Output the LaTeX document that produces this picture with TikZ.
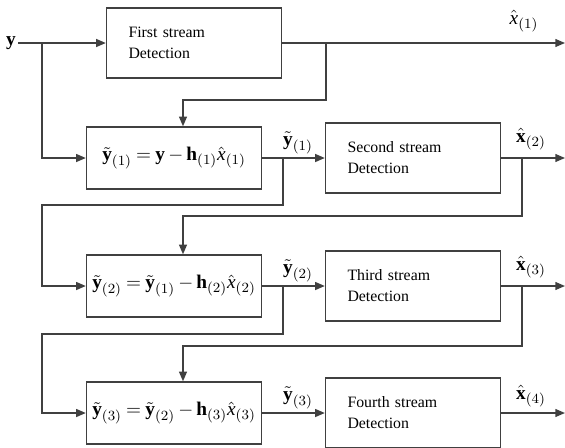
\documentclass[tikz,border=0pt]{standalone}
\usepackage{fontspec}
\setmainfont{Liberation Serif}
\usetikzlibrary{arrows.meta}
\newcommand{\vy}{\textbf{y}}
\newcommand{\vh}{\textbf{h}}
\newcommand{\vx}{\textbf{x}}
\newcommand{\tightsp}{\thickmuskip=4mu\relax\medmuskip=3mu\relax}

\begin{document}
\begin{tikzpicture}[x=0.02cm,y=-0.02cm,line width=0.8pt,
  wire/.style={draw=black!75,-{Triangle[length=5.5pt,width=4.5pt]}},
  detbox/.style={draw=black!75,minimum width=3.5cm,minimum height=1.4cm,text width=2.62cm,
    align=left,inner sep=0pt,font=\fontsize{9}{12}\selectfont},
  eqbox/.style={draw=black!75,minimum width=3.5cm,minimum height=1.24cm,inner sep=0pt,
    font=\fontsize{11}{13}\selectfont},
  lbl/.style={inner sep=1pt,font=\fontsize{11}{13}\selectfont}]
  \useasboundingbox (0,0) rectangle (565,447);
  % primera etapa
  \node[lbl] (yin) at (11,43) {$\vy$};
  \node[detbox] (det1) at (194,43) {First stream\\Detection};
  \draw[wire] (yin) -- (det1);
  \coordinate (a0) at (42,43);
  \coordinate (o1) at (565,43);
  \draw[wire] (det1) -- (o1);
  \node[lbl] (xh1) at (524,21) {$\hat{\textit{x}}_{(1)}$};
  \node[eqbox] (eq1) at (174,158) {$\tightsp\tilde{\vy}_{(1)} = \vy - \vh_{(1)}\hat{\textit{x}}_{(1)}$};
  \draw[wire] (a0) |- (eq1);
  \coordinate (b1) at (326,43);
  \coordinate (k1) at (183,100);
  \draw[wire] (b1) |- (k1) -- (k1 |- eq1.north);
  % segunda etapa
  \node[detbox] (det2) at (413,158) {Second stream\\Detection};
  \draw[wire] (eq1) -- (det2);
  \node[lbl] (yt1) at (298,143) {$\tilde{\vy}_{(1)}$};
  \coordinate (o2) at (565,158);
  \draw[wire] (det2) -- (o2);
  \node[lbl] (xh2) at (531,139) {$\hat{\vx}_{(2)}$};
  \node[eqbox] (eq2) at (174,286) {$\tightsp\tilde{\vy}_{(2)} = \tilde{\vy}_{(1)} - \vh_{(2)}\hat{\textit{x}}_{(2)}$};
  \coordinate (d1) at (283,158);
  \coordinate (e1) at (42,205);
  \draw[wire] (d1) |- (e1) |- (eq2);
  \coordinate (b2) at (522,158);
  \coordinate (k2) at (183,216);
  \draw[wire] (b2) |- (k2) -- (k2 |- eq2.north);
  % tercera etapa
  \node[detbox] (det3) at (413,286) {Third stream\\Detection};
  \draw[wire] (eq2) -- (det3);
  \node[lbl] (yt2) at (298,271) {$\tilde{\vy}_{(2)}$};
  \coordinate (o3) at (565,286);
  \draw[wire] (det3) -- (o3);
  \node[lbl] (xh3) at (531,267) {$\hat{\vx}_{(3)}$};
  \node[eqbox] (eq3) at (174,413) {$\tightsp\tilde{\vy}_{(3)} = \tilde{\vy}_{(2)} - \vh_{(3)}\hat{\textit{x}}_{(3)}$};
  \coordinate (d2) at (283,286);
  \coordinate (e2) at (42,334);
  \draw[wire] (d2) |- (e2) |- (eq3);
  \coordinate (b3) at (522,286);
  \coordinate (k3) at (183,346);
  \draw[wire] (b3) |- (k3) -- (k3 |- eq3.north);
  % cuarta etapa
  \node[detbox] (det4) at (413,413) {Fourth stream\\Detection};
  \draw[wire] (eq3) -- (det4);
  \node[lbl] (yt3) at (298,398) {$\tilde{\vy}_{(3)}$};
  \coordinate (o4) at (565,413);
  \draw[wire] (det4) -- (o4);
  \node[lbl] (xh4) at (531,396) {$\hat{\vx}_{(4)}$};
\end{tikzpicture}
\end{document}
